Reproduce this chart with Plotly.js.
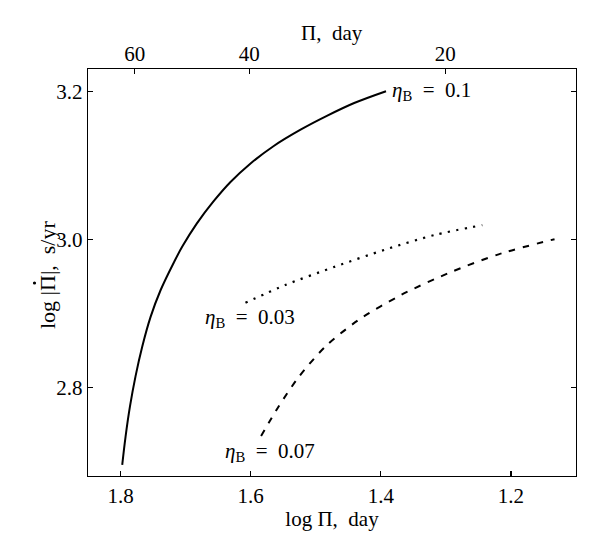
<!DOCTYPE html>
<html>
<head>
<meta charset="utf-8">
<script src="https://cdn.plot.ly/plotly-3.0.1.min.js"></script>
<style>html,body{margin:0;padding:0;background:#fff;}#plot{width:600px;height:550px;}</style>
</head>
<body>
<div id="plot"></div>
<script>
// eta_B = 0.1 (solid)
const solidX = [1.7974, 1.7923, 1.7855, 1.7769, 1.7666, 1.7538, 1.7385, 1.7178, 1.7051, 1.6829, 1.6572, 1.6314, 1.6006, 1.5645, 1.5233, 1.4821, 1.4409, 1.392];
const solidY = [2.695, 2.733, 2.774, 2.815, 2.855, 2.895, 2.931, 2.969, 2.990, 3.021, 3.051, 3.077, 3.102, 3.126, 3.148, 3.167, 3.184, 3.200];
// eta_B = 0.03 (dotted)
const dottedX = [1.608, 1.547, 1.470, 1.393, 1.316, 1.244];
const dottedY = [2.914, 2.938, 2.963, 2.986, 3.006, 3.019];
// eta_B = 0.07 (dashed)
const dashedX = [1.584, 1.557, 1.526, 1.485, 1.434, 1.368, 1.291, 1.214, 1.133];
const dashedY = [2.734, 2.774, 2.814, 2.855, 2.891, 2.925, 2.956, 2.981, 3.000];

const bottomTicks = [1.8, 1.6, 1.4, 1.2];
const leftTicks = [2.8, 3.0, 3.2];
const topTickDays = [60, 40, 20];
const topTickLabels = ['60', '40', '20'];

const labels = [
  '<i>η</i><sub>B</sub>\u2002=\u20020.1',
  '<i>η</i><sub>B</sub>\u2002=\u20020.03',
  '<i>η</i><sub>B</sub>\u2002=\u20020.07'
];
const xTitle = 'log Π,\u2002day';
const topTitle = 'Π,\u2002day';
const yTitle = 'log |Π|,\u2002s/yr';

const FONT = '"Liberation Serif", "Times New Roman", serif';
const SZ = 21;
const xr = [1.85, 1.10];
const yr = [2.68, 3.23];

const M = {l: 88, r: 24, t: 69, b: 74};
const PW = 600 - M.l - M.r, PH = 550 - M.t - M.b;
const px2paperX = p => (p - M.l) / PW;
const px2paperY = p => (550 - M.b - p) / PH;

const traces = [
  {x: solidX, y: solidY, mode: 'lines', line: {color: '#000', width: 2, shape: 'spline', smoothing: 1}, xaxis: 'x', yaxis: 'y', hoverinfo: 'skip'},
  {x: dottedX, y: dottedY, mode: 'lines', line: {color: '#000', width: 2.2, dash: '2.2px,6.4px', shape: 'spline', smoothing: 0.8}, xaxis: 'x', yaxis: 'y', hoverinfo: 'skip'},
  {x: dashedX, y: dashedY, mode: 'lines', line: {color: '#000', width: 2, dash: '6.7px,7.8px', shape: 'spline', smoothing: 0.8}, xaxis: 'x', yaxis: 'y', hoverinfo: 'skip'},
  {x: [xr[0]], y: [yr[0]], mode: 'markers', marker: {opacity: 0}, xaxis: 'x2', yaxis: 'y', hoverinfo: 'skip'}
];

function tf(s) { return {family: FONT, size: s || SZ, color: '#000'}; }

const axisCommon = {
  showgrid: false, zeroline: false, showline: true, linecolor: '#000', linewidth: 1.3,
  ticks: 'inside', ticklen: 5, tickwidth: 1.2, tickcolor: '#000'
};

// dot over the Pi in the y title (Pi-dot)
const dotCx = px2paperX(34.5), dotCy = px2paperY(283);
const dotRx = 1.6 / PW, dotRy = 1.6 / PH;

const layout = {
  width: 600, height: 550,
  margin: {l: M.l, r: M.r, t: M.t, b: M.b, pad: 0},
  paper_bgcolor: '#fff', plot_bgcolor: '#fff',
  showlegend: false,
  font: tf(),
  xaxis: Object.assign({}, axisCommon, {
    range: xr, mirror: true, tickmode: 'array', tickvals: bottomTicks,
    ticktext: bottomTicks.map(v => v.toFixed(1)), tickfont: tf(),
    title: {text: xTitle, font: tf(), standoff: 4}
  }),
  xaxis2: Object.assign({}, axisCommon, {
    range: xr, overlaying: 'x', side: 'top', anchor: 'y', showline: false,
    tickmode: 'array', tickvals: topTickDays.map(d => Math.log10(d)), ticktext: topTickLabels,
    tickfont: tf(), ticklabelstandoff: 3
  }),
  yaxis: Object.assign({}, axisCommon, {
    range: yr, mirror: 'ticks', tickmode: 'array', tickvals: leftTicks,
    ticktext: leftTicks.map(v => v.toFixed(1)), tickfont: tf()
  }),
  shapes: [
    {type: 'circle', xref: 'paper', yref: 'paper', x0: dotCx - dotRx, x1: dotCx + dotRx, y0: dotCy - dotRy, y1: dotCy + dotRy,
     fillcolor: '#000', line: {width: 0}}
  ],
  annotations: [
    {x: 1.386, y: 3.2, xref: 'x', yref: 'y', text: labels[0], showarrow: false, xanchor: 'left', yanchor: 'middle', font: tf()},
    {x: 1.601, y: 2.893, xref: 'x', yref: 'y', text: labels[1], showarrow: false, xanchor: 'center', yanchor: 'middle', font: tf()},
    {x: 1.571, y: 2.713, xref: 'x', yref: 'y', text: labels[2], showarrow: false, xanchor: 'center', yanchor: 'middle', font: tf()},
    {x: 0.5, y: 1, xref: 'paper', yref: 'paper', yshift: 36, text: topTitle, showarrow: false, xanchor: 'center', yanchor: 'middle', font: tf()},
    {x: px2paperX(47), y: px2paperY(275), xref: 'paper', yref: 'paper', text: yTitle, textangle: -90, showarrow: false, xanchor: 'center', yanchor: 'middle', font: tf(22)}
  ]
};

Plotly.newPlot('plot', traces, layout, {staticPlot: true, displayModeBar: false});
</script>
</body>
</html>
